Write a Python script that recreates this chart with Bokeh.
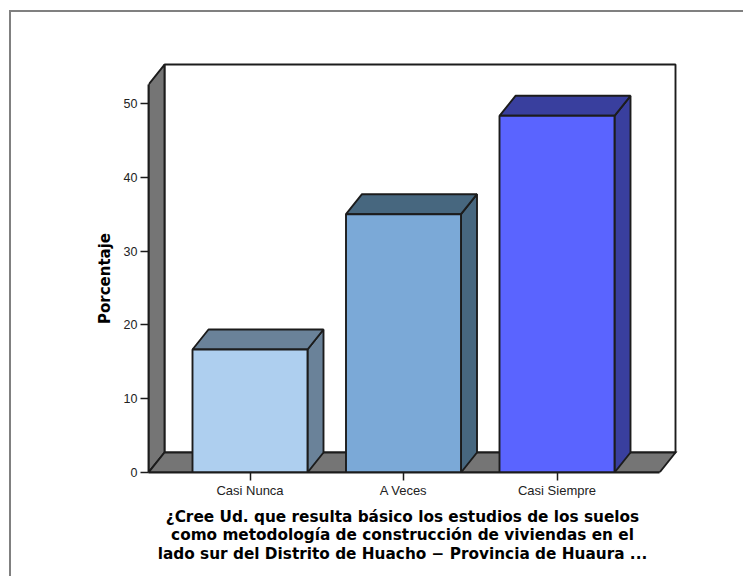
import math
from bokeh.plotting import figure
from bokeh.models import FixedTicker, InlineStyleSheet, Label, Range1d
from bokeh.embed import file_html
from bokeh.resources import INLINE

categories = ["Casi Nunca", "A Veces", "Casi Siempre"]
values = [16.67, 35.0, 48.33]
front_colors = ["#AECFEF", "#7BA9D7", "#5A64FF"]
shade_colors = ["#6A8299", "#47677F", "#393F9E"]
y_ticks = [0, 10, 20, 30, 40, 50]
y_title = "Porcentaje"
x_title = ("¿Cree Ud. que resulta básico los estudios de los suelos\n"
           "como metodología de construcción de viviendas en el\n"
           "lado sur del Distrito de Huacho − Provincia de Huaura ...")

# Page pixels -> data units
PX_X = 153.5
PX_Y = 7.38
DX = 16 / PX_X
DY = 20 / PX_Y
BAR_W = 115 / PX_X
X0 = (148 - 249.5) / PX_X
X1 = (659 - 249.5) / PX_X
Y_TOP = 52.57
LINE = "#1c1c1c"
LW = 1.9
WALL = "#757575"

border_css = (":host::after{content:'';position:absolute;left:9px;top:10px;right:0;bottom:0;"
              "border-left:2px solid #808080;border-top:2px solid #808080;pointer-events:none;}")

p = figure(width=743, height=576, output_backend="svg", toolbar_location=None,
           x_range=Range1d(X0, (679 - 249.5) / PX_X),
           y_range=Range1d(0, 412 / PX_Y),
           min_border_left=148, min_border_right=64,
           min_border_top=60, min_border_bottom=104,
           background_fill_color="white", border_fill_color="white",
           stylesheets=[InlineStyleSheet(css=border_css)])
p.outline_line_color = None
p.grid.visible = False

# back wall, side wall, floor
p.patch([X0 + DX, X1 + DX, X1 + DX, X0 + DX], [DY, DY, Y_TOP + DY, Y_TOP + DY],
        fill_color="white", line_color=LINE, line_width=LW)
p.patch([X0, X0 + DX, X0 + DX, X0], [0, DY, Y_TOP + DY, Y_TOP],
        fill_color=WALL, line_color=LINE, line_width=LW)
p.patch([X0, X0 + DX, X1 + DX, X1], [0, DY, DY, 0],
        fill_color=WALL, line_color=LINE, line_width=LW, line_join="miter")

# 3-D bars
for i, v in enumerate(values):
    l, r = i - BAR_W / 2, i + BAR_W / 2
    p.patch([r, r + DX, r + DX, r], [0, DY, v + DY, v],
            fill_color=shade_colors[i], line_color=LINE, line_width=LW)
    p.patch([l, r, r + DX, l + DX], [v, v, v + DY, v + DY],
            fill_color=shade_colors[i], line_color=LINE, line_width=LW)
    p.quad(left=l, right=r, bottom=0, top=v,
           fill_color=front_colors[i], line_color=LINE, line_width=LW)

# axes
xa, ya = p.xaxis[0], p.yaxis[0]
xa.ticker = FixedTicker(ticks=list(range(len(categories))))
xa.major_label_overrides = {i: c for i, c in enumerate(categories)}
xa.bounds = (X0, X1)
ya.ticker = FixedTicker(ticks=y_ticks)
ya.bounds = (0, Y_TOP)
for a in (xa, ya):
    a.axis_line_color = LINE
    a.axis_line_width = LW
    a.major_tick_line_color = LINE
    a.major_tick_line_width = 1.5
    a.major_tick_out = 8
    a.major_tick_in = 0
    a.minor_tick_line_color = None
    a.major_label_text_font = "Liberation Sans"
    a.major_label_text_font_size = "12.5px"
    a.major_label_text_color = "#222222"
    a.major_label_standoff = 3
xa.major_label_text_font_size = "13px"
xa.major_label_standoff = 2

p.add_layout(Label(x=402 - 148, y=49, x_units="screen", y_units="screen",
                   text=x_title, text_align="center", text_baseline="top",
                   text_font="DejaVu Sans", text_font_style="bold",
                   text_font_size="15.3px", text_color="black",
                   text_line_height=1.05), "below")
p.add_layout(Label(x=2, y=472 - 278, x_units="screen", y_units="screen", angle=math.pi / 2,
                   text=y_title, text_align="center", text_baseline="middle",
                   text_font="DejaVu Sans", text_font_style="bold",
                   text_font_size="15px", text_color="black"), "left")

open("out.html", "w").write(file_html(p, INLINE))
